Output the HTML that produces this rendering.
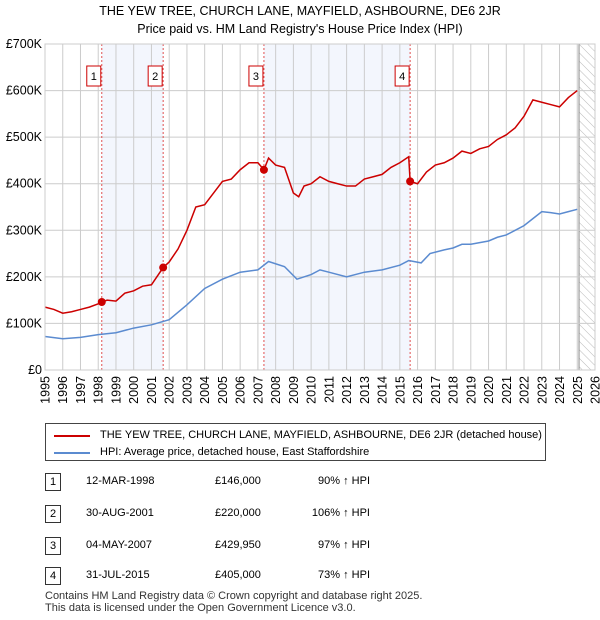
<!DOCTYPE html>
<html><head><meta charset="utf-8"><style>
body{margin:0;background:#fff;font-family:"Liberation Sans","DejaVu Sans",sans-serif;}
#wrap{position:relative;width:600px;height:620px;overflow:hidden;}
.t{position:absolute;font-size:12px;color:#000;white-space:nowrap;}
</style></head><body>
<div id="wrap">
<div class="t" style="left:0;width:600px;text-align:center;top:4px;font-size:12.5px">THE YEW TREE, CHURCH LANE, MAYFIELD, ASHBOURNE, DE6 2JR</div>
<div class="t" style="left:0;width:600px;text-align:center;top:22px;font-size:12.5px">Price paid vs. HM Land Registry's House Price Index (HPI)</div>
<svg id="chart" width="600" height="420" style="position:absolute;left:0;top:0"></svg>
<div style="position:absolute;left:45px;top:423px;width:501px;height:38px;border:1px solid #444;box-sizing:border-box">
 <div style="position:absolute;left:8px;top:11px;width:36px;height:2px;background:#cc0000"></div>
 <div class="t" style="left:54px;top:5px;font-size:11px">THE YEW TREE, CHURCH LANE, MAYFIELD, ASHBOURNE, DE6 2JR (detached house)</div>
 <div style="position:absolute;left:8px;top:28px;width:36px;height:2px;background:#5b8bd0"></div>
 <div class="t" style="left:54px;top:22px;font-size:11px">HPI: Average price, detached house, East Staffordshire</div>
</div>
<div id="table"></div>
<div class="t" style="left:45px;top:590px;font-size:11px;color:#333">Contains HM Land Registry data © Crown copyright and database right 2025.</div>
<div class="t" style="left:45px;top:602px;font-size:11px;color:#333">This data is licensed under the Open Government Licence v3.0.</div>
</div>
<script>
const years=[1995,1996,1997,1998,1999,2000,2001,2002,2003,2004,2005,2006,2007,2008,2009,2010,2011,2012,2013,2014,2015,2016,2017,2018,2019,2020,2021,2022,2023,2024,2025,2026];
const yTicks=[0,100000,200000,300000,400000,500000,600000,700000];
const yTickLabels=["£0","£100K","£200K","£300K","£400K","£500K","£600K","£700K"];
const redT=[1995,1995.5,1996,1996.5,1997,1997.5,1998,1998.2,1998.5,1999,1999.5,2000,2000.5,2001,2001.66,2002,2002.5,2003,2003.5,2004,2004.5,2005,2005.5,2006,2006.5,2007,2007.34,2007.6,2008,2008.5,2009,2009.3,2009.6,2010,2010.5,2011,2011.5,2012,2012.5,2013,2013.5,2014,2014.5,2015,2015.5,2015.58,2016,2016.5,2017,2017.5,2018,2018.5,2019,2019.5,2020,2020.5,2021,2021.5,2022,2022.5,2023,2023.5,2024,2024.5,2025];
const redV=[135,130,122,125,130,135,142,146,150,148,165,170,180,183,220,232,260,300,350,355,380,405,410,430,445,445,430,455,440,435,380,372,395,400,415,405,400,395,395,410,415,420,435,445,458,405,400,425,440,445,455,470,465,475,480,495,505,520,545,580,575,570,565,585,600];
const hpiT=[1995,1996,1997,1998,1999,2000,2001,2002,2003,2004,2005,2006,2007,2007.6,2008.5,2009.2,2010,2010.5,2011,2012,2013,2014,2015,2015.5,2016.2,2016.7,2017.5,2018,2018.5,2019,2020,2020.5,2021,2021.5,2022,2022.5,2023,2023.5,2024,2024.5,2025];
const hpiV=[72,67,70,76,80,90,97,108,140,175,195,210,215,233,222,195,205,215,210,200,210,215,225,235,230,250,258,262,270,270,277,285,290,300,310,325,340,338,335,340,345];
const saleT=[1998.2,2001.66,2007.34,2015.58];
const saleV=[146000,220000,429950,405000];
const saleLabels=["1","2","3","4"];
const saleDates=["12-MAR-1998","30-AUG-2001","04-MAY-2007","31-JUL-2015"];
const salePrices=["£146,000","£220,000","£429,950","£405,000"];
const saleHpi=["90% ↑ HPI","106% ↑ HPI","97% ↑ HPI","73% ↑ HPI"];
const X0=45,X1=595,Y0=370,Y1=44;
const xs=t=>X0+(t-1995)/(2026-1995)*(X1-X0);
const ys=v=>Y0-v/700000*(Y0-Y1);
const svg=document.getElementById('chart');const NS='http://www.w3.org/2000/svg';
function mk(tag,a,p){const e=document.createElementNS(NS,tag);for(const k in a)e.setAttribute(k,a[k]);(p||svg).appendChild(e);return e;}
for(const [a,b] of [[0,1],[2,3]]){const r=mk('rect',{x:xs(saleT[a]),y:Y1,width:xs(saleT[b])-xs(saleT[a]),height:Y0-Y1,fill:'#eef2fc',opacity:0.7});

}
const defs=mk('defs',{});const pat=mk('pattern',{id:'h',width:6,height:6,patternUnits:'userSpaceOnUse',patternTransform:'rotate(-45)'},defs);mk('line',{x1:0,y1:0,x2:0,y2:6,stroke:'#bbb','stroke-width':1},pat);
const hr=mk('rect',{x:xs(2025.1),y:Y1,width:X1-xs(2025.1),height:Y0-Y1,fill:'url(#h)'});


mk('line',{x1:xs(2025.1),x2:xs(2025.1),y1:Y1,y2:Y0,stroke:'#888','stroke-width':1});
years.forEach(y=>{mk('line',{x1:xs(y),x2:xs(y),y1:Y1,y2:Y0,stroke:'#ccc','stroke-width':1});
const t=mk('text',{x:0,y:0,transform:`translate(${xs(y)+4.5},${Y0+6}) rotate(-90)`,'text-anchor':'end','font-size':12.5,fill:'#000','font-family':'Liberation Sans, sans-serif'});t.textContent=y;

});
yTicks.forEach((v,i)=>{mk('line',{x1:X0,x2:X1,y1:ys(v),y2:ys(v),stroke:'#ccc','stroke-width':1});
const t=mk('text',{x:X0-3,y:ys(v)+4,'text-anchor':'end','font-size':12.5,fill:'#000','font-family':'Liberation Sans, sans-serif'});t.textContent=yTickLabels[i];

});
saleT.forEach((t,i)=>{mk('line',{x1:xs(t),x2:xs(t),y1:Y1,y2:Y0,stroke:'#e05050','stroke-width':1,'stroke-dasharray':'2,2'});
const bx=xs(t)-15;const r=mk('rect',{x:bx,y:66,width:14,height:20,fill:'#fff',stroke:'#cc0000','stroke-width':1});


const tx=mk('text',{x:bx+7,y:80,'text-anchor':'middle','font-size':11,'font-family':'Liberation Sans, sans-serif'});tx.textContent=saleLabels[i];

});
const hp=mk('polyline',{points:hpiT.map((t,i)=>xs(t)+','+ys(hpiV[i]*1000)).join(' '),fill:'none',stroke:'#5b8bd0','stroke-width':1.5});


const rp=mk('polyline',{points:redT.map((t,i)=>xs(t)+','+ys(redV[i]*1000)).join(' '),fill:'none',stroke:'#cc0000','stroke-width':1.5});


saleT.forEach((t,i)=>{const c=mk('circle',{cx:xs(t),cy:ys(saleV[i]),r:4,fill:'#cc0000'});

});
mk('rect',{x:X0,y:Y1,width:X1-X0,height:Y0-Y1,fill:'none',stroke:'#ccc'});
const tb=document.getElementById('table');const rowsY=[482,514,546,576];
saleLabels.forEach((l,i)=>{const y=rowsY[i];
const row=document.createElement('div');


row.innerHTML=`<div style="position:absolute;left:45px;top:${y-9}px;width:16px;height:18px;border:1px solid #333;box-sizing:border-box;font-size:11px;text-align:center;line-height:16px">${l}</div>
<div class="t" style="left:86px;top:${y-7}px;font-size:11px">${saleDates[i]}</div>
<div class="t" style="left:215px;top:${y-7}px;font-size:11px">${salePrices[i]}</div>
<div class="t" style="left:300px;top:${y-7}px;width:70px;text-align:right;font-size:11px">${saleHpi[i]}</div>`;
tb.appendChild(row);});
</script>
</body></html>
